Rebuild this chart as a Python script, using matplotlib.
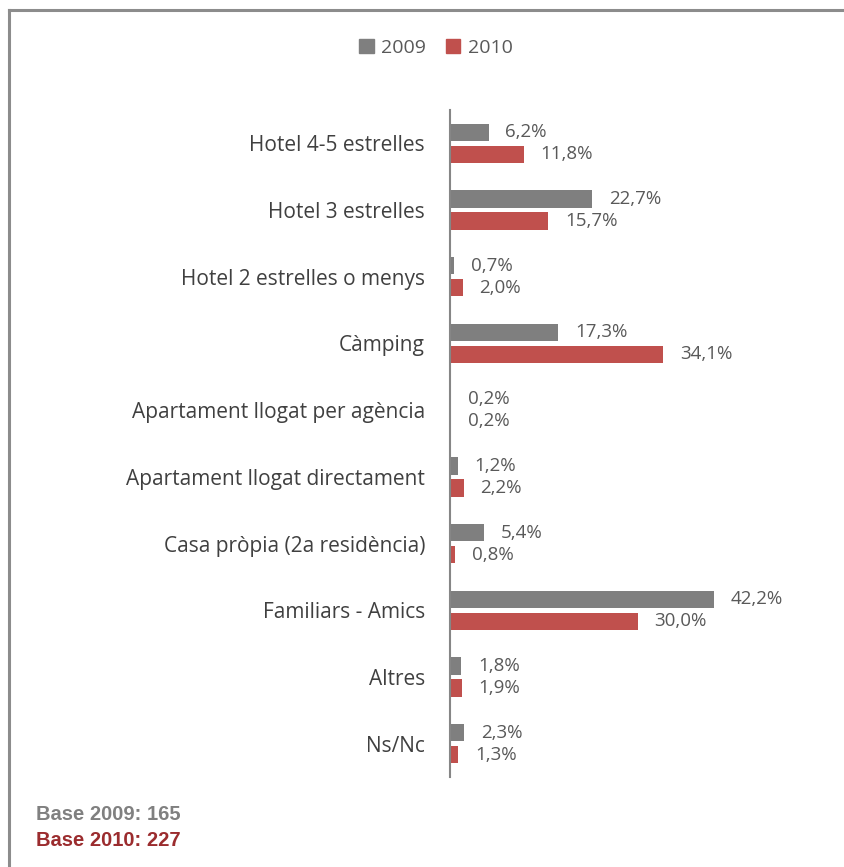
import matplotlib.pyplot as plt
import numpy as np
from matplotlib.patches import Patch
from matplotlib.lines import Line2D

categories = ["Hotel 4-5 estrelles", "Hotel 3 estrelles", "Hotel 2 estrelles o menys",
              "Càmping", "Apartament llogat per agència", "Apartament llogat directament",
              "Casa pròpia (2a residència)", "Familiars - Amics", "Altres", "Ns/Nc"]
vals_2009 = [6.2, 22.7, 0.7, 17.3, 0.2, 1.2, 5.4, 42.2, 1.8, 2.3]
vals_2010 = [11.8, 15.7, 2.0, 34.1, 0.2, 2.2, 0.8, 30.0, 1.9, 1.3]
series_names = ["2009", "2010"]

gray = "#7f7f7f"
red = "#c0504d"

plt.rcParams['font.family'] = ['Open Sans', 'DejaVu Sans']

W, H = 845, 867
fig = plt.figure(figsize=(W / 100, H / 100), dpi=100)
ax = fig.add_axes([450 / W, 1 - 777 / H, 370 / W, 667 / H])

y = np.arange(len(categories))
bh = 0.26
off = 0.165
ax.barh(y - off, vals_2009, height=bh, color=gray)
ax.barh(y + off, vals_2010, height=bh, color=red)

# value labels next to each bar
for i in range(len(categories)):
    for v, dy in ((vals_2009[i], -off), (vals_2010[i], off)):
        ax.annotate(f"{v:.1f}%".replace(".", ","), (v, i + dy), xytext=(12, 0),
                    textcoords="offset points", va="center", ha="left",
                    fontsize=13.5, color="#595959")

ax.set_xlim(0, 370 / 6.26)
ax.set_ylim(9.5, -0.5)
ax.set_yticks(y)
ax.set_yticklabels(categories, fontsize=15, color="#404040")
ax.tick_params(axis="y", length=0, pad=18)
ax.set_xticks([])
for s in ("top", "right", "bottom"):
    ax.spines[s].set_visible(False)
ax.spines["left"].set_color("#868686")
ax.spines["left"].set_linewidth(1.5)

handles = [Patch(color=gray), Patch(color=red)]
fig.legend(handles, series_names, loc="center", bbox_to_anchor=(436 / W, 1 - 48 / H),
           ncol=2, frameon=False, fontsize=14, handlelength=0.75, handleheight=0.75,
           handletextpad=0.4, columnspacing=1.0, labelcolor="#595959")

# footer with sample sizes
fig.text(36 / W, 1 - 815 / H, "Base 2009: 165", fontsize=14.5, fontweight="bold",
         color="#808080", family="Liberation Sans", va="center")
fig.text(36 / W, 1 - 841 / H, "Base 2010: 227", fontsize=14.5, fontweight="bold",
         color="#9b2c2e", family="Liberation Sans", va="center")

# frame along top and left edge
fig.add_artist(Line2D([9 / W, 1], [1 - 10 / H, 1 - 10 / H], color="#8c8c8c", lw=2.2))
fig.add_artist(Line2D([9 / W, 9 / W], [0, 1 - 10 / H], color="#8c8c8c", lw=2.2))

fig.savefig("out.png", dpi=100)
